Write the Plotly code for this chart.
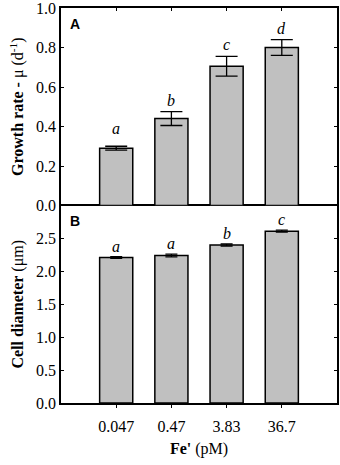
import plotly.graph_objects as go

categories = ["0.047", "0.47", "3.83", "36.7"]
growth_rate = [0.29, 0.44, 0.705, 0.80]
growth_err = [0.01, 0.035, 0.05, 0.04]
growth_letters = ["a", "b", "c", "d"]
cell_diam = [2.21, 2.24, 2.40, 2.61]
cell_err = [0.012, 0.02, 0.015, 0.015]
cell_letters = ["a", "a", "b", "c"]
growth_ticks = [0.0, 0.2, 0.4, 0.6, 0.8, 1.0]
cell_ticks = [0.0, 0.5, 1.0, 1.5, 2.0, 2.5]

xpos = list(range(len(categories)))
SERIF = "Liberation Serif"
SANS = "Liberation Sans"

fig = go.Figure()
bar_style = dict(marker=dict(color="#c0c0c0", line=dict(color="black", width=1.5)),
                 width=0.6, showlegend=False, hoverinfo="skip")
fig.add_trace(go.Bar(x=xpos, y=growth_rate, xaxis="x2", yaxis="y2",
                     error_y=dict(type="data", array=growth_err, color="black",
                                  thickness=1.3, width=11), **bar_style))
fig.add_trace(go.Bar(x=xpos, y=cell_diam, xaxis="x", yaxis="y",
                     error_y=dict(type="data", array=cell_err, color="black",
                                  thickness=1.3, width=6), **bar_style))

letter_font = dict(family=SERIF, size=16, color="black")
annotations = []
for i, (x, v, e, t) in enumerate(zip(xpos, growth_rate, growth_err, growth_letters)):
    annotations.append(dict(x=x, y=v + e, xref="x2", yref="y2", text="<i>%s</i>" % t,
                            showarrow=False, yanchor="bottom",
                            yshift=7 if i == 0 else 1, font=letter_font))
for x, v, e, t in zip(xpos, cell_diam, cell_err, cell_letters):
    annotations.append(dict(x=x, y=v + e, xref="x", yref="y", text="<i>%s</i>" % t,
                            showarrow=False, yanchor="bottom", yshift=0, font=letter_font))
annotations.append(dict(x=0.025, y=0.985, xref="paper", yref="paper", text="<b>A</b>",
                        showarrow=False, xanchor="left", yanchor="top",
                        font=dict(family=SANS, size=14, color="black")))
annotations.append(dict(x=0.025, y=0.485, xref="paper", yref="paper", text="<b>B</b>",
                        showarrow=False, xanchor="left", yanchor="top",
                        font=dict(family=SANS, size=14, color="black")))

tickfont = dict(family=SERIF, size=16, color="black")
common_x = dict(range=[-1, 4], tickvals=xpos, ticktext=categories, showgrid=False,
                zeroline=False, showline=True, linecolor="black", linewidth=1.5,
                automargin=False)
common_y = dict(showgrid=False, zeroline=False, showline=True, linecolor="black",
                linewidth=1.5, ticks="inside", ticklen=3, tickcolor="black",
                mirror="ticks", tickfont=tickfont, tickformat=".1f", automargin=False,
                ticklabeloverflow="allow")

fig.update_layout(
    width=340, height=465, autosize=False,
    margin=dict(l=61, r=3, t=8, b=62),
    paper_bgcolor="white", plot_bgcolor="white",
    font=dict(family=SERIF, color="black"),
    xaxis=dict(common_x, anchor="y", ticks="outside", ticklen=3, tickcolor="black",
               mirror=True, tickfont=tickfont, ticklabelstandoff=5,
               title=dict(text="<b>Fe'</b> (pM)", font=dict(family=SERIF, size=16, color="black"),
                          standoff=9)),
    xaxis2=dict(common_x, anchor="y2", matches="x", side="top", ticks="inside", ticklen=3,
                tickcolor="black", mirror=False, showticklabels=False),
    yaxis=dict(common_y, domain=[0, 0.5], range=[0, 3.0], tickvals=cell_ticks,
               title=dict(text="<b>Cell diameter</b> (μm)",
                          font=dict(family=SERIF, size=16, color="black"), standoff=8)),
    yaxis2=dict(common_y, domain=[0.5, 1], range=[0, 1.0], tickvals=growth_ticks,
                title=dict(text="<b>Growth rate - </b>μ (d<sup>-1</sup>)",
                           font=dict(family=SERIF, size=16, color="black"), standoff=8)),
    annotations=annotations,
)

post = ("document.body.style.margin='0';document.body.style.overflow='hidden';"
        "var gd=document.getElementById('{plot_id}');"
        "Plotly.relayout(gd,{width:340,height:465});")
fig.write_html("out.html", config={"responsive": False, "displayModeBar": False},
               post_script=post)
